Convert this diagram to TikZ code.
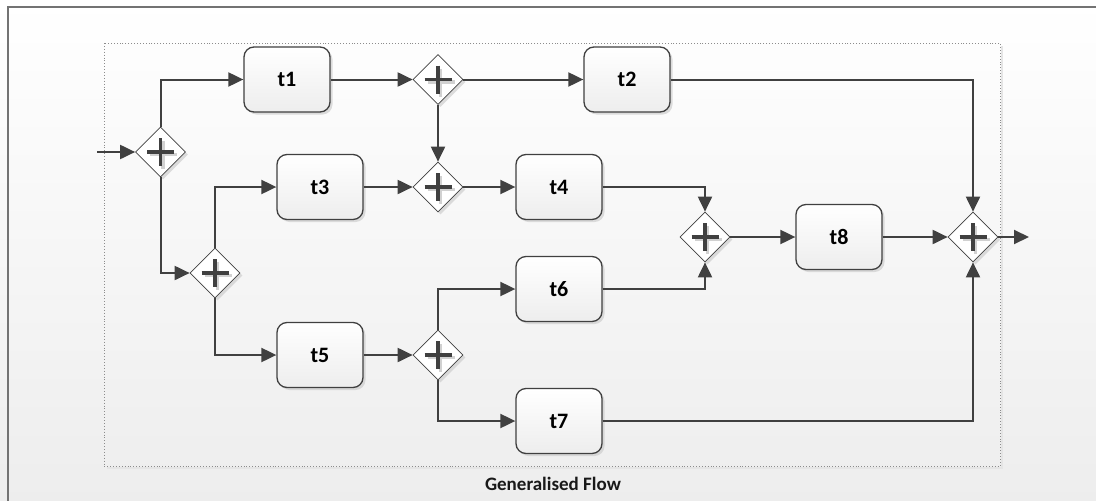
\documentclass[tikz,border=0pt]{standalone}
\usepackage{fontspec}
\setmainfont{Carlito}
\usetikzlibrary{shapes.geometric,arrows.meta,shadows}
\definecolor{ink}{HTML}{404040}
\begin{document}
\begin{tikzpicture}[x=1pt,y=-1pt,
  task/.style={rectangle, rounded corners=10pt, draw=ink, line width=1.3pt,
    top color=white, bottom color=black!7, minimum width=86pt, minimum height=65pt,
    inner sep=0pt, font=\bfseries\fontsize{22}{22}\selectfont,
    drop shadow={shadow xshift=2.5pt, shadow yshift=-2.5pt, fill=black!22, opacity=0.6}},
  gate/.style={diamond, draw=ink, line width=0.7pt, fill=white,
    minimum width=50pt, minimum height=50pt, inner sep=0pt,
    drop shadow={shadow xshift=2.5pt, shadow yshift=-2.5pt, fill=black!22, opacity=0.6},
    path picture={
      \draw[line width=3.4pt, black!18]
        ([shift={(-10.5,2.5)}]path picture bounding box.center) -- ++(27,0)
        ([shift={(2.5,-11)}]path picture bounding box.center) -- ++(0,28);
      \draw[line width=3.4pt, ink]
        ([shift={(-13.5,0)}]path picture bounding box.center) -- ++(27,0)
        ([shift={(0,-14)}]path picture bounding box.center) -- ++(0,28);
    }},
  flow/.style={draw=ink, line width=2pt, -{Triangle[length=15pt,width=14pt]}}
]
% canvas and frame
\fill[top color=white, bottom color=black!7] (0,0) rectangle (1096,501);
\useasboundingbox (0,0) rectangle (1096,501);
\draw[black!55, line width=1.5pt] (8,501) -- (8,7) -- (1096,7);
% pool outline
\draw[black!10, line width=2pt] (1002,46) -- (1002,468) -- (107,468);
\draw[black!45, line width=0.9pt, dotted] (104,43) rectangle (1000,466);

% tasks
\node[task] (t1) at (287,79.5) {t1};
\node[task] (t2) at (627,79.5) {t2};
\node[task] (t3) at (320,187) {t3};
\node[task] (t4) at (559,187) {t4};
\node[task] (t5) at (320,355) {t5};
\node[task] (t6) at (559,289) {t6};
\node[task] (t7) at (559,421) {t7};
\node[task] (t8) at (839,237) {t8};

% parallel gateways
\node[gate] (g1) at (160.5,152) {};
\node[gate] (g2) at (438,79.5) {};
\node[gate] (g3) at (438,187) {};
\node[gate] (g6) at (215,273) {};
\node[gate] (g7) at (438,355) {};
\node[gate] (g4) at (705,237) {};
\node[gate] (g5) at (973,237) {};

\coordinate (in) at (97,152);
\coordinate (out) at (1029,237);

% sequence flows
\draw[flow] (in) -- (g1.west);
\draw[flow] (g1.north) |- (t1.west);
\draw[flow] (g1.south) |- (g6.west);
\draw[flow] (t1.east) -- (g2.west);
\draw[flow] (g2.east) -- (t2.west);
\draw[flow] (g2.south) -- (g3.north);
\draw[flow] (g6.north) |- (t3.west);
\draw[flow] (g6.south) |- (t5.west);
\draw[flow] (t3.east) -- (g3.west);
\draw[flow] (g3.east) -- (t4.west);
\draw[flow] (t5.east) -- (g7.west);
\draw[flow] (g7.north) |- (t6.west);
\draw[flow] (g7.south) |- (t7.west);
\draw[flow] (t4.east) -| (g4.north);
\draw[flow] (t6.east) -| (g4.south);
\draw[flow] (g4.east) -- (t8.west);
\draw[flow] (t8.east) -- (g5.west);
\draw[flow] (t2.east) -| (g5.north);
\draw[flow] (t7.east) -| (g5.south);
\draw[flow] (g5.east) -- (out);

\node[font=\bfseries\fontsize{19}{19}\selectfont, text=black!90] (cap) at (553,484) {Generalised Flow};
\end{tikzpicture}
\end{document}
